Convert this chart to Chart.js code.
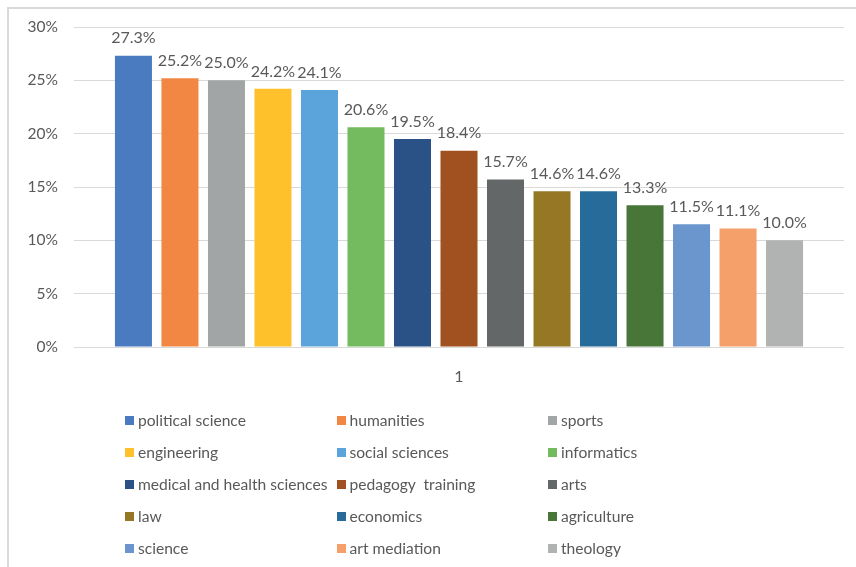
<!DOCTYPE html>
<html>
<head>
<meta charset="utf-8">
<script src="https://cdn.jsdelivr.net/npm/chart.js@4/dist/chart.umd.min.js"></script>
<style>
  html, body { margin: 0; padding: 0; background: #fff; }
  #wrap { position: relative; width: 856px; height: 567px; overflow: hidden; }
  #frame { position: absolute; left: 7px; top: 7px; width: 900px; height: 600px;
           border-left: 2px solid #d9d9d9; border-top: 2px solid #d9d9d9; box-sizing: border-box; }
  canvas { position: absolute; left: 0; top: 0; }
  #legend { position: absolute; left: 125px; top: 411px; font-family: Lato, "Open Sans", sans-serif;
            font-size: 15.6px; color: #595959; }
  .item { position: absolute; display: flex; align-items: center; white-space: pre; height: 18px; }
  .box { width: 9px; height: 9px; margin-right: 4px; flex: none; }
</style>
</head>
<body>
<div id="wrap">
  <div id="frame"></div>
  <canvas id="c" width="856" height="567"></canvas>
  <div id="legend"></div>
</div>
<script>
const categories = ["1"];
const seriesNames = [
  "political science", "humanities", "sports",
  "engineering", "social sciences", "informatics",
  "medical and health sciences", "pedagogy  training", "arts",
  "law", "economics", "agriculture",
  "science", "art mediation", "theology"
];
const seriesValues = [27.3, 25.2, 25.0, 24.2, 24.1, 20.6, 19.5, 18.4, 15.7, 14.6, 14.6, 13.3, 11.5, 11.1, 10.0];
const seriesColors = [
  "#4a7bc0", "#f28743", "#a2a5a5",
  "#fec02b", "#5ba3db", "#74bb5f",
  "#2a5286", "#a0511f", "#646767",
  "#967726", "#276b9a", "#487638",
  "#6b95cd", "#f59f6a", "#b1b3b3"
];
const yTicks = [0, 5, 10, 15, 20, 25, 30];

const textColor = "#595959";
const fontFamily = "Lato, 'Open Sans', sans-serif";

const datasets = seriesNames.map((name, i) => ({
  label: name,
  data: [seriesValues[i]],
  backgroundColor: seriesColors[i],
  borderWidth: 0,
  categoryPercentage: 0.906,
  barPercentage: 0.796
}));

const valueLabels = {
  id: "valueLabels",
  afterDatasetsDraw(chart) {
    const ctx = chart.ctx;
    ctx.save();
    ctx.font = "16px " + fontFamily;
    ctx.fillStyle = textColor;
    ctx.textAlign = "center";
    ctx.textBaseline = "middle";
    chart.data.datasets.forEach((ds, i) => {
      const meta = chart.getDatasetMeta(i);
      meta.data.forEach((bar, j) => {
        ctx.fillText(ds.data[j].toFixed(1) + "%", bar.x, bar.y - 17.5);
      });
    });
    ctx.restore();
  }
};

const chart = new Chart(document.getElementById("c"), {
  type: "bar",
  data: { labels: categories, datasets },
  options: {
    responsive: false,
    animation: false,
    layout: { padding: { left: 0, right: 12, top: 27, bottom: 0 } },
    plugins: { legend: { display: false }, tooltip: { enabled: false } },
    scales: {
      x: {
        grid: { display: false, drawTicks: false },
        border: { display: false },
        ticks: { color: textColor, font: { family: fontFamily, size: 16 }, padding: 20 },
        afterFit(scale) { scale.height = 220; }
      },
      y: {
        min: 0, max: 30,
        afterBuildTicks(scale) { scale.ticks = yTicks.map(v => ({ value: v })); },
        grid: { color: "#d9d9d9", lineWidth: 1, drawTicks: false },
        border: { display: false },
        ticks: { color: textColor, font: { family: fontFamily, size: 15.5 }, padding: 16,
                 callback: v => v + "%" },
        afterFit(scale) { scale.width = 74; }
      }
    }
  },
  plugins: [valueLabels]
});

// HTML legend, 3 columns x 5 rows
const legend = document.getElementById("legend");
chart.data.datasets.forEach((ds, i) => {
  const col = i % 3, row = Math.floor(i / 3);
  const item = document.createElement("div");
  item.className = "item";
  item.style.left = (col * 211.5) + "px";
  item.style.top = (row * 32) + "px";
  const box = document.createElement("span");
  box.className = "box";
  box.style.background = ds.backgroundColor;
  const txt = document.createElement("span");
  txt.textContent = ds.label;
  item.appendChild(box);
  item.appendChild(txt);
  legend.appendChild(item);
});
</script>
</body>
</html>
